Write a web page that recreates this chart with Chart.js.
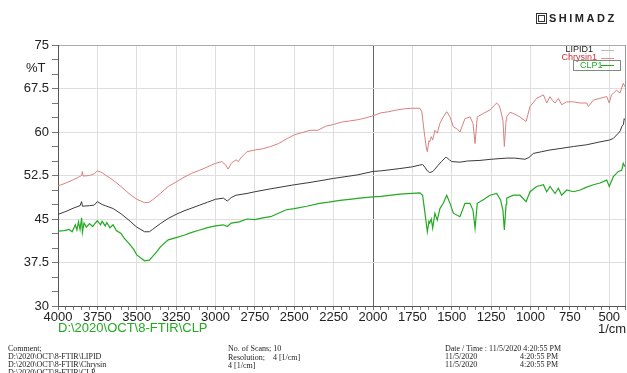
<!DOCTYPE html>
<html><head><meta charset="utf-8">
<script src="https://cdn.jsdelivr.net/npm/chart.js@4"></script>
<style>
html,body{margin:0;padding:0;background:#fff;overflow:hidden;}
#wrap{position:relative;width:627px;height:373px;overflow:hidden;}
canvas{position:absolute;left:0;top:0;}
.t{position:absolute;white-space:nowrap;font-family:"Liberation Sans",Arial,sans-serif;line-height:1;}
.f{position:absolute;white-space:nowrap;font-family:"Liberation Serif","Times New Roman",serif;font-size:8px;line-height:1;color:#222;}
.lg{position:absolute;height:0;border-top:1px solid;}
</style></head>
<body><div id="wrap">
<canvas id="c" width="627" height="373"></canvas>
<div class="t" style="left:536px;top:13px;width:9px;height:9px;border:1px solid #333;"></div>
<div class="t" style="left:538px;top:15px;width:5px;height:5px;border:1px solid #333;"></div>
<div class="t" style="left:549px;top:13px;font-size:11px;font-weight:bold;letter-spacing:2.5px;color:#222;">SHIMADZ</div>
<div class="t" style="left:26px;top:61px;font-size:13px;color:#222;">%T</div>
<div class="t" style="right:34px;top:45px;font-size:9px;color:#222;">LIPID1</div>
<div class="t" style="right:30px;top:53px;font-size:9px;color:#d0303a;">Chrysin1</div>
<div class="t" style="left:573px;top:60px;width:46px;height:9px;border:1px solid #7a8f7a;"></div>
<div class="t" style="left:580px;top:61px;font-size:9px;color:#22aa22;">CLP1</div>
<div class="lg" style="left:601px;top:50px;width:13px;border-color:#bbb;"></div>
<div class="lg" style="left:601px;top:58px;width:13px;border-color:#e09090;"></div>
<div class="lg" style="left:601px;top:65px;width:13px;border-color:#22aa22;"></div>
<div class="t" style="left:58px;top:321px;font-size:13px;color:#22aa22;">D:\2020\OCT\8-FTIR\CLP</div>
<div class="t" style="left:598px;top:322px;font-size:13px;color:#222;">1/cm</div>
<div class="f" style="left:8px;top:345px;">Comment;</div>
<div class="f" style="left:8px;top:353px;">D:\2020\OCT\8-FTIR\LIPID</div>
<div class="f" style="left:8px;top:361px;">D:\2020\OCT\8-FTIR\Chrysin</div>
<div class="f" style="left:8px;top:369px;">D:\2020\OCT\8-FTIR\CLP</div>
<div class="f" style="left:228px;top:345px;">No. of Scans; 10</div>
<div class="f" style="left:228px;top:354px;">Resolution;&nbsp;&nbsp;&nbsp; 4 [1/cm]</div>
<div class="f" style="left:228px;top:362px;">4 [1/cm]</div>
<div class="f" style="left:445px;top:345px;">Date / Time : 11/5/2020 4:20:55 PM</div>
<div class="f" style="left:445px;top:353px;">11/5/2020</div>
<div class="f" style="left:520px;top:353px;">4:20:55 PM</div>
<div class="f" style="left:445px;top:361px;">11/5/2020</div>
<div class="f" style="left:520px;top:361px;">4:20:55 PM</div>
</div>
<script>
const chrysinX = [4000,3950,3900,3870,3850,3845,3840,3800,3770,3750,3720,3700,3650,3600,3550,3500,3450,3420,3400,3350,3300,3250,3200,3150,3100,3050,3000,2960,2935,2920,2900,2870,2855,2840,2800,2750,2700,2650,2600,2550,2500,2450,2400,2350,2300,2250,2200,2150,2100,2050,2000,1950,1900,1850,1800,1750,1702,1690,1675,1660,1655,1645,1640,1630,1621,1607,1592,1575,1554,1532,1511,1490,1465,1448,1416,1384,1365,1352,1338,1300,1257,1215,1200,1190,1175,1166,1155,1151,1130,1109,1067,1028,1003,961,918,897,876,860,844,823,802,770,728,685,643,632,601,559,516,500,486,453,432,411,400];
const chrysinY = [50.7,51.2,51.8,52.2,52.5,53.2,52.4,52.5,52.8,53.3,53.0,52.6,51.7,50.6,49.4,48.4,47.8,47.9,48.3,49.4,50.6,51.4,52.2,52.9,53.4,54.0,54.6,54.9,54.3,53.6,54.6,55.2,54.9,55.5,56.6,56.9,57.1,57.5,58.0,58.8,59.5,59.9,60.3,60.3,61.0,61.3,61.7,61.9,62.1,62.4,62.8,63.3,63.5,63.8,64.0,64.1,64.1,63.5,60.0,57.0,56.6,58.5,58.3,59.2,58.6,60.3,59.8,61.5,62.6,63.5,62.6,60.9,60.5,60.0,62.3,62.6,61.5,58.0,62.6,63.2,63.8,65.0,64.6,63.8,62.0,57.5,62.0,62.6,63.4,63.2,62.6,61.8,64.4,65.8,66.4,65.0,66.1,65.4,65.0,65.8,64.7,65.2,65.2,65.0,65.0,64.4,65.5,65.8,66.1,65.0,66.4,67.2,66.7,68.4,67.8];

const lipidX = [4000,3950,3900,3860,3850,3845,3800,3770,3750,3720,3700,3650,3600,3550,3500,3450,3420,3400,3350,3300,3250,3200,3150,3100,3050,3000,2950,2925,2900,2870,2800,2750,2650,2500,2400,2250,2100,2000,1950,1829,1750,1702,1685,1670,1655,1640,1620,1607,1585,1565,1540,1532,1515,1500,1448,1400,1321,1250,1151,1100,1035,1010,982,930,876,800,728,643,559,500,474,442,430,421,410,405,400];
const lipidY = [45.8,46.3,46.9,47.3,48.0,47.2,47.3,47.4,48.0,47.5,47.3,46.8,45.9,44.8,43.6,42.8,42.8,43.2,44.2,45.1,45.8,46.4,46.9,47.4,47.9,48.4,48.6,48.1,48.7,49.1,49.4,49.7,50.2,50.9,51.3,52.0,52.6,53.2,53.3,53.7,54.0,54.3,54.4,53.9,53.3,53.0,53.2,53.6,54.3,54.9,55.6,55.6,55.2,54.9,54.8,55.0,55.1,55.3,55.5,55.5,55.3,55.6,56.3,56.6,56.9,57.2,57.5,57.8,58.3,58.6,58.9,59.8,60.2,60.9,61.3,62.3,62.1];

const clpX = [4000,3960,3930,3910,3900,3890,3880,3870,3860,3850,3845,3835,3820,3800,3780,3760,3750,3730,3720,3700,3690,3670,3650,3630,3600,3580,3550,3520,3500,3470,3450,3420,3400,3375,3350,3300,3250,3200,3150,3100,3050,3000,2950,2925,2900,2850,2800,2750,2700,2650,2600,2550,2500,2420,2340,2280,2210,2150,2085,2000,1950,1829,1702,1685,1670,1655,1645,1640,1630,1621,1607,1592,1575,1554,1532,1511,1490,1448,1416,1384,1365,1352,1338,1300,1257,1215,1190,1175,1166,1155,1151,1109,1067,1028,1003,961,918,897,876,844,823,802,770,728,685,643,601,559,516,500,474,442,421,411,400];
const clpY = [42.9,43.0,43.2,42.8,43.4,44.0,43.1,44.5,43.2,45.2,42.7,44.3,43.6,44.2,43.7,44.4,44.7,44.0,44.6,43.8,44.4,43.5,44.0,43.0,42.5,41.7,40.8,39.8,38.8,38.2,37.8,37.9,38.5,39.3,40.2,41.4,41.8,42.2,42.7,43.1,43.5,43.8,44.0,43.7,44.3,44.5,45.0,44.9,45.2,45.4,46.0,46.6,46.8,47.2,47.7,47.9,48.2,48.4,48.6,48.8,48.9,49.3,49.5,49.1,46.0,42.8,44.6,44.3,45.0,43.4,46.0,44.8,46.8,47.7,49.1,47.7,46.0,45.4,47.7,47.7,46.5,43.4,47.7,48.3,49.1,49.4,48.3,46.5,43.1,47.5,48.6,49.1,49.1,48.0,49.7,50.6,50.9,49.7,50.6,49.4,50.3,49.1,50.0,49.7,50.0,50.5,50.9,51.2,51.7,50.6,52.3,53.2,53.4,54.6,54.0];

const seriesNames = ['LIPID1','Chrysin1','CLP1'];

function pts(xs, ys){ return xs.map((x,i)=>({x:x, y:ys[i]})); }
const isMult = (v,s)=>Math.abs(v/s - Math.round(v/s)) < 1e-6;
const FONT = {family:'"Liberation Sans", Arial, sans-serif', size:13};

new Chart(document.getElementById('c'), {
  type:'line',
  data:{datasets:[
    {label:seriesNames[0], data:pts(lipidX,lipidY), borderColor:'#3a3a3a', borderWidth:1, pointRadius:0, tension:0},
    {label:seriesNames[1], data:pts(chrysinX,chrysinY), borderColor:'#d98080', borderWidth:1, pointRadius:0, tension:0},
    {label:seriesNames[2], data:pts(clpX,clpY), borderColor:'#22aa22', borderWidth:1.2, pointRadius:0, tension:0}
  ]},
  options:{
    responsive:false, animation:false,
    layout:{padding:{top:45, right:2, bottom:45, left:0}},
    plugins:{legend:{display:false}, tooltip:{enabled:false}},
    scales:{
      x:{type:'linear', reverse:true, min:400, max:4000,
        afterFit:s=>{s.height=22;},
        border:{color:'#555', width:1},
        grid:{tickLength:4, tickColor:'#777',
          color:c=>{const v=c.tick.value; if(v===2000) return '#666'; if(v===400) return '#999'; return isMult(v,250)?'#dedede':'rgba(0,0,0,0)';}},
        ticks:{stepSize:50, autoSkip:false, maxRotation:0, padding:0, color:'#222', font:FONT,
          callback:v=>isMult(v,250)?String(v):''}
      },
      y:{min:30, max:75,
        afterFit:s=>{s.width=58;},
        border:{color:'#555', width:1},
        grid:{tickLength:6, tickColor:'#777',
          color:c=>{const v=c.tick.value; if(v===75) return '#aaa'; return isMult(v,7.5)?'#dedede':'rgba(0,0,0,0)';}},
        ticks:{stepSize:2.5, autoSkip:false, padding:3, color:'#222', font:FONT,
          callback:v=>isMult(v,7.5)?String(v):''}
      }
    }
  }
});
</script>
</body></html>
